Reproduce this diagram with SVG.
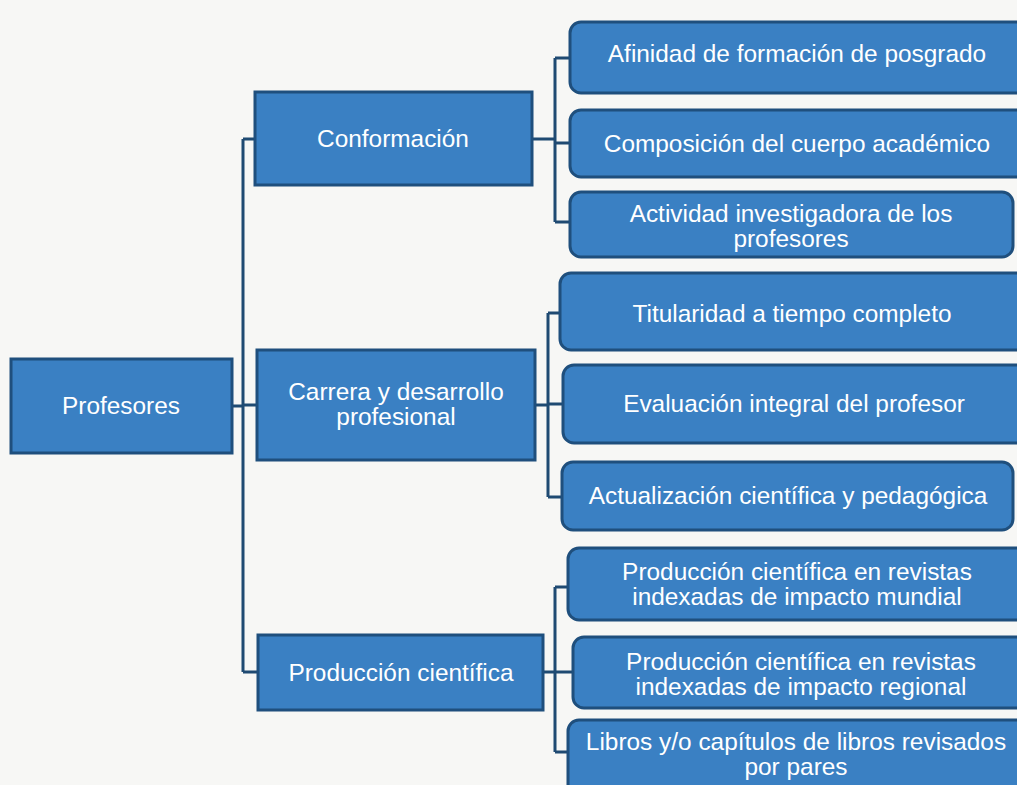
<svg xmlns="http://www.w3.org/2000/svg" width="1017" height="785" viewBox="0 0 1017 785">
<style>
.bg{fill:#f7f7f5}
.sq{fill:#3a80c3;stroke:#1f4f7d;stroke-width:3}
.rd{fill:#3a80c3;stroke:#1f4f7d;stroke-width:3}
.t{font-family:"Liberation Sans",Arial,sans-serif;font-size:24.4px;fill:#ffffff;text-anchor:middle}
.c{fill:none;stroke:#1f4a72;stroke-width:3}
</style>
<rect class="bg" x="0" y="0" width="1017" height="785"/>
<g id="connectors">
<path class="c" d="M232 406 H243 M243 139 V672 M243 139 H255 M243 405 H257 M243 672 H258"/>
<path class="c" d="M532 139 H555 M555 58 V222 M555 58 H570 M555 143 H570 M555 222 H570"/>
<path class="c" d="M535 405 H548 M548 313 V497 M548 313 H560 M548 404 H563 M548 497 H562"/>
<path class="c" d="M543 672 H555 M555 587 V752 M555 587 H568 M555 672 H573 M555 752 H568"/>
</g>
<g id="n-profesores"><rect class="sq" x="11" y="359" width="221" height="94"/><text class="t" x="121" y="414">Profesores</text></g>
<g id="n-conformacion"><rect class="sq" x="255" y="92" width="277" height="93"/><text class="t" x="393" y="147">Conformación</text></g>
<g id="n-carrera"><rect class="sq" x="257" y="350" width="278" height="110"/><text class="t" x="396" y="400">Carrera y desarrollo</text><text class="t" x="396" y="425">profesional</text></g>
<g id="n-produccion"><rect class="sq" x="258" y="635" width="285" height="75"/><text class="t" x="401" y="681">Producción científica</text></g>
<g id="n-afinidad"><rect class="rd" x="570" y="22" width="460" height="71" rx="11"/><text class="t" x="797" y="62">Afinidad de formación de posgrado</text></g>
<g id="n-composicion"><rect class="rd" x="570" y="110" width="460" height="67" rx="11"/><text class="t" x="797" y="152">Composición del cuerpo académico</text></g>
<g id="n-actividad"><rect class="rd" x="570" y="192" width="443" height="65" rx="11"/><text class="t" x="791" y="222">Actividad investigadora de los</text><text class="t" x="791" y="247">profesores</text></g>
<g id="n-titularidad"><rect class="rd" x="560" y="273" width="470" height="77" rx="11"/><text class="t" x="792" y="322">Titularidad a tiempo completo</text></g>
<g id="n-evaluacion"><rect class="rd" x="563" y="365" width="467" height="78" rx="11"/><text class="t" x="794" y="412">Evaluación integral del profesor</text></g>
<g id="n-actualizacion"><rect class="rd" x="562" y="462" width="451" height="68" rx="11"/><text class="t" x="788" y="504">Actualización científica y pedagógica</text></g>
<g id="n-mundial"><rect class="rd" x="568" y="548" width="462" height="72" rx="11"/><text class="t" x="797" y="580">Producción científica en revistas</text><text class="t" x="797" y="605">indexadas de impacto mundial</text></g>
<g id="n-regional"><rect class="rd" x="573" y="637" width="457" height="71" rx="11"/><text class="t" x="801" y="670">Producción científica en revistas</text><text class="t" x="801" y="695">indexadas de impacto regional</text></g>
<g id="n-libros"><rect class="rd" x="568" y="720" width="462" height="80" rx="11"/><text class="t" x="796" y="750">Libros y/o capítulos de libros revisados</text><text class="t" x="796" y="775">por pares</text></g>
</svg>
